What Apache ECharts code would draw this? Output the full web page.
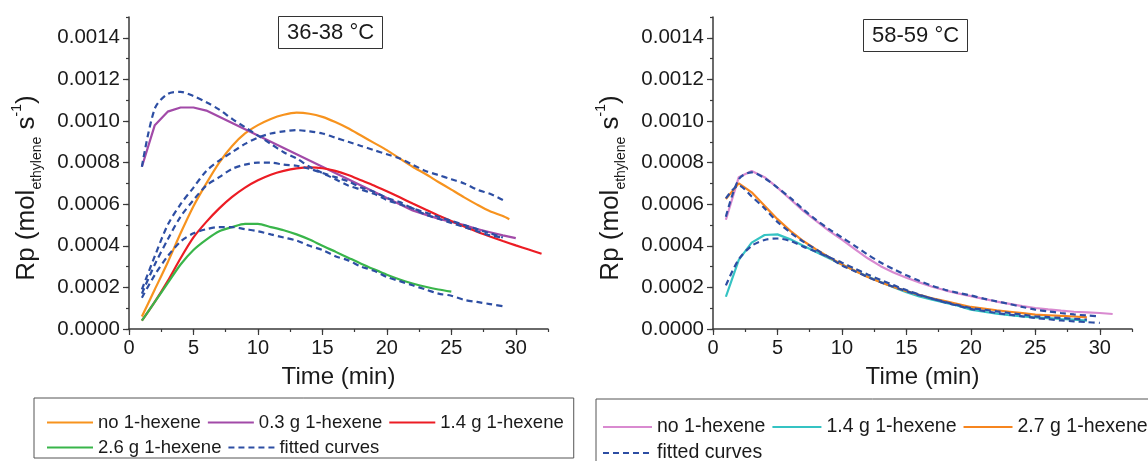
<!DOCTYPE html>
<html>
<head>
<meta charset="utf-8">
<script src="https://cdn.jsdelivr.net/npm/echarts@6/dist/echarts.min.js"></script>
<style>
html,body{margin:0;padding:0;background:#fff;}
#chart{width:1148px;height:461px;}
</style>
</head>
<body>
<div id="chart"></div>
<script>
// ---------- DATA ----------
const leftTitle = '36-38 °C';
const rightTitle = '58-59 °C';
const xTickValues = [0, 5, 10, 15, 20, 25, 30];
const xMinorValues = [0, 2.5, 5, 7.5, 10, 12.5, 15, 17.5, 20, 22.5, 25, 27.5, 30, 32.5];
const yTickValues = [0, 0.0002, 0.0004, 0.0006, 0.0008, 0.0010, 0.0012, 0.0014];
const yMinorValues = [0, 0.0001, 0.0002, 0.0003, 0.0004, 0.0005, 0.0006, 0.0007, 0.0008, 0.0009, 0.0010, 0.0011, 0.0012, 0.0013, 0.0014, 0.0015];

const namesLeft = ['no 1-hexene', '0.3 g 1-hexene', '1.4 g 1-hexene', '2.6 g 1-hexene', 'fitted curves'];
const namesRight = ['no 1-hexene', '1.4 g 1-hexene', '2.7 g 1-hexene', 'fitted curves'];

// Left panel (36-38 °C), time in min
const tOrangeL = [1,2,3,4,5,6,7,8,9,10,11,12,13,14,15,16,17,18,19,20,21,22,23,24,25,26,27,28,29,29.5];
const noHexL = [0.00006,0.00019,0.00032,0.00046,0.00059,0.00070,0.00080,0.00088,0.00094,0.00098,0.00101,0.00103,0.00104,0.001035,0.00102,0.000995,0.000965,0.00093,0.000895,0.00086,0.00082,0.00078,0.000745,0.000707,0.00067,0.000633,0.000598,0.000566,0.000543,0.000528];
const tPurpleL = [1,2,3,4,5,6,7,8,9,10,11,12,13,14,15,16,17,18,19,20,21,22,23,24,25,26,27,28,29,30];
const hex03L = [0.00078,0.00098,0.001045,0.001065,0.001065,0.00105,0.00102,0.00099,0.00096,0.00093,0.00090,0.00087,0.00084,0.00081,0.00078,0.00075,0.00072,0.00069,0.00066,0.00063,0.00060,0.00057,0.00055,0.00053,0.000515,0.00050,0.00048,0.000465,0.00045,0.000437];
const tRedL = [1,2,3,4,5,6,7,8,9,10,11,12,13,14,15,16,17,18,19,20,21,22,23,24,25,26,27,28,29,30,31,32];
const hex14L = [0.00004,0.00013,0.00023,0.00034,0.00044,0.000515,0.00058,0.000635,0.00068,0.000715,0.000742,0.00076,0.000772,0.000777,0.000773,0.00076,0.00074,0.000715,0.00069,0.000662,0.000633,0.000603,0.000574,0.000546,0.000519,0.000493,0.000468,0.000445,0.000423,0.000402,0.000382,0.000362];
const tGreenL = [1,2,3,4,5,6,7,8,9,10,11,12,13,14,15,16,17,18,19,20,21,22,23,24,25];
const hex26L = [0.00004,0.00013,0.00022,0.00031,0.00038,0.00043,0.00047,0.00049,0.000505,0.000505,0.00049,0.000475,0.000455,0.00043,0.00040,0.000372,0.000343,0.000314,0.000287,0.000261,0.000238,0.000219,0.000203,0.00019,0.00018];
const tFitL = [1,2,3,4,5,6,7,8,9,10,11,12,13,14,15,16,17,18,19,20,21,22,23,24,25,26,27,28,29];
const fitNoHexL = [0.00019,0.00035,0.00050,0.00060,0.00068,0.00076,0.00081,0.00085,0.00089,0.00092,0.00094,0.00095,0.000956,0.00095,0.00094,0.00092,0.00090,0.00088,0.00086,0.00084,0.00082,0.00079,0.00076,0.00074,0.00072,0.00070,0.00067,0.00065,0.00062];
const fitHex03L = [0.00078,0.00106,0.00113,0.00114,0.00112,0.00109,0.001055,0.00101,0.00097,0.00093,0.00089,0.00085,0.00082,0.00078,0.00075,0.00072,0.00069,0.00067,0.00065,0.00062,0.00060,0.00058,0.00055,0.00053,0.00051,0.00049,0.00047,0.00045,0.00044];
const fitHex14L = [0.00017,0.00031,0.00043,0.00054,0.00062,0.00069,0.00073,0.00077,0.00079,0.00080,0.00080,0.00079,0.000785,0.00077,0.00075,0.00073,0.00071,0.00068,0.00066,0.00063,0.00061,0.00058,0.00056,0.00054,0.00052,0.00050,0.00048,0.00046,0.00044];
const fitHex26L = [0.00015,0.00026,0.00035,0.00042,0.00046,0.00048,0.00049,0.00049,0.00048,0.00047,0.000455,0.00044,0.000425,0.00040,0.00038,0.00035,0.00033,0.00030,0.00028,0.00025,0.00023,0.00021,0.00019,0.00017,0.00016,0.00014,0.00013,0.00012,0.00011];

// Right panel (58-59 °C)
const tPinkR = [1,2,3,4,5,6,7,8,9,10,11,12,13,14,15,16,17,18,19,20,21,22,23,24,25,26,27,28,29,30,31];
const noHexR = [0.000525,0.00073,0.00076,0.00073,0.00068,0.000624,0.000568,0.00052,0.000472,0.00043,0.000384,0.00034,0.000302,0.000272,0.000246,0.000224,0.000203,0.000186,0.000171,0.000158,0.000145,0.000132,0.000121,0.00011,0.000101,0.000094,0.000088,0.000083,0.00008,0.000077,0.000072];
const tShortR = [1,2,3,4,5,6,7,8,9,10,11,12,13,14,15,16,17,18,19,20,21,22,23,24,25,26,27,28,29];
const hex14R = [0.000155,0.000332,0.000415,0.000452,0.000455,0.000431,0.0004,0.00037,0.00034,0.00031,0.00028,0.000252,0.000226,0.000201,0.000177,0.000157,0.000141,0.000127,0.000112,0.000093,0.000083,0.000074,0.000066,0.00006,0.000056,0.000052,0.000048,0.000045,0.00004];
const hex27R = [0.000625,0.0007,0.000657,0.000592,0.000528,0.000472,0.000423,0.000383,0.000345,0.00031,0.00028,0.00025,0.000225,0.000202,0.000182,0.000164,0.000148,0.000134,0.00012,0.000106,0.000098,0.00009,0.000083,0.000076,0.000069,0.000066,0.000063,0.00006,0.000056];
const tFitR = [1,2,3,4,5,6,7,8,9,10,11,12,13,14,15,16,17,18,19,20,21,22,23,24,25,26,27,28,29,30];
const fitNoHexR = [0.00054,0.00072,0.000753,0.000725,0.00068,0.00063,0.000575,0.000525,0.00048,0.00044,0.0004,0.000358,0.00032,0.000288,0.000258,0.000232,0.000208,0.000189,0.000174,0.000161,0.000146,0.000133,0.00012,0.000106,0.000093,0.000085,0.000077,0.00007,0.000065,0.000061];
const fitHex14R = [0.00021,0.000335,0.0004,0.000428,0.000435,0.000423,0.000396,0.000372,0.000345,0.000319,0.00029,0.000262,0.000236,0.000211,0.000187,0.000165,0.000146,0.000128,0.000112,0.000097,0.000087,0.000077,0.000069,0.000061,0.000053,0.000047,0.000041,0.000037,0.000033,0.000029];
const fitHex27R = [0.000628,0.00069,0.000637,0.00058,0.000515,0.000464,0.00042,0.000382,0.000345,0.000306,0.000278,0.00025,0.000225,0.000203,0.000182,0.000163,0.000146,0.00013,0.000115,0.000101,0.000093,0.000085,0.000077,0.000069,0.000061,0.000057,0.000053,0.000049,0.000045];

// ---------- STYLE ----------
const FONT = '"Liberation Sans", Arial, Helvetica, sans-serif';
const TXT = '#1a1a1a';
const AX = '#3a3a3a';
const FITC = '#2d4ea3';
const C = {
  orangeL: '#f7931e', purple: '#a24aa8', red: '#ec1c24', green: '#39b54a',
  pink: '#d98ad0', teal: '#35c3c3', orangeR: '#f6851f'
};
const RSUF = '\u0000R'; // suffix to make right-panel series names unique
const pairs = (t, v) => v.map((y, i) => [t[i], y]);

function xAxes(g) {
  return [{
    type: 'value', gridIndex: g, position: 'bottom', min: 0, max: 32.5,
    axisLine: { show: true, onZero: false, lineStyle: { color: AX, width: 1.5 } },
    axisTick: { show: true, length: 3, customValues: xMinorValues, lineStyle: { color: AX, width: 1.2 } },
    axisLabel: { show: true, customValues: xTickValues, margin: 9, fontSize: 20, color: TXT, fontFamily: FONT,
      formatter: v => String(v) },
    splitLine: { show: false },
    name: 'Time (min)', nameLocation: 'middle', nameGap: 36,
    nameTextStyle: { fontSize: 24, color: TXT, fontFamily: FONT }
  }, {
    type: 'value', gridIndex: g, position: 'bottom', min: 0, max: 32.5,
    axisLine: { show: false },
    axisTick: { show: true, length: 6, customValues: xTickValues, lineStyle: { color: AX, width: 1.2 } },
    axisLabel: { show: false }, splitLine: { show: false }
  }];
}
function yAxes(g) {
  return [{
    type: 'value', gridIndex: g, position: 'left', min: 0, max: 0.0015,
    axisLine: { show: true, onZero: false, lineStyle: { color: AX, width: 1.5 } },
    axisTick: { show: true, length: 3, customValues: yMinorValues, lineStyle: { color: AX, width: 1.2 } },
    axisLabel: { show: true, customValues: yTickValues, margin: 9, fontSize: 20.5, color: TXT, fontFamily: FONT,
      formatter: v => v.toFixed(4) },
    splitLine: { show: false }
  }, {
    type: 'value', gridIndex: g, position: 'left', min: 0, max: 0.0015,
    axisLine: { show: false },
    axisTick: { show: true, length: 6, customValues: yTickValues, lineStyle: { color: AX, width: 1.2 } },
    axisLabel: { show: false }, splitLine: { show: false }
  }];
}
function solid(name, data, color, xi, yi, smooth) {
  return { type: 'line', name, data, xAxisIndex: xi, yAxisIndex: yi, symbol: 'none', smooth: smooth || false,
    lineStyle: { color, width: 2.2 }, itemStyle: { color }, z: 2, animation: false };
}
function fit(name, data, xi, yi) {
  return { type: 'line', name, data, xAxisIndex: xi, yAxisIndex: yi, symbol: 'none', smooth: 0.3,
    lineStyle: { color: FITC, width: 2.2, type: [6, 4] }, itemStyle: { color: FITC }, z: 3, animation: false };
}

const yNameRich = {
  m: { fontSize: 26, lineHeight: 34, fontFamily: FONT, fill: TXT, color: TXT },
  sub: { fontSize: 14, lineHeight: 14, fontFamily: FONT, fill: TXT, color: TXT, verticalAlign: 'bottom' },
  sup: { fontSize: 14, lineHeight: 14, fontFamily: FONT, fill: TXT, color: TXT, verticalAlign: 'top' }
};
const yNameText = '{m|Rp (mol}{sub|ethylene}{m| s}{sup|-1}{m|)}';

const legendCommon = {
  orient: 'horizontal', borderColor: '#555', borderWidth: 1, borderRadius: 0,
  itemGap: 6, selectedMode: false,
  itemStyle: { opacity: 0, borderWidth: 0 },
  formatter: n => n.replace(RSUF, '')
};

const option = {
  backgroundColor: '#ffffff',
  animation: false,
  title: [
    { text: leftTitle, left: 278, top: 16, padding: [5, 9, 5, 9], borderColor: '#333', borderWidth: 1,
      textStyle: { fontSize: 22, fontWeight: 'normal', color: TXT, fontFamily: FONT, lineHeight: 23 } },
    { text: rightTitle, left: 863, top: 19, padding: [5, 9, 5, 9], borderColor: '#333', borderWidth: 1,
      textStyle: { fontSize: 22, fontWeight: 'normal', color: TXT, fontFamily: FONT, lineHeight: 23 } }
  ],
  grid: [
    { left: 129, top: 17, width: 419, height: 312, containLabel: false },
    { left: 713, top: 17, width: 419, height: 312, containLabel: false }
  ],
  xAxis: [...xAxes(0), ...xAxes(1)],
  yAxis: [...yAxes(0), ...yAxes(1)],
  legend: [
    Object.assign({}, legendCommon, {
      left: 34, top: 398, width: 528, padding: [15, 10, 1, 12],
      itemWidth: 46, itemHeight: 14,
      textStyle: { color: TXT, fontFamily: FONT, fontSize: 18.5, lineHeight: 19 },
      data: namesLeft
    }),
    Object.assign({}, legendCommon, {
      left: 596, top: 399, width: 548, padding: [18, 40, 40, 6],
      itemWidth: 49, itemHeight: 14,
      textStyle: { color: TXT, fontFamily: FONT, fontSize: 19.5, lineHeight: 20 },
      data: namesRight.map(n => n + RSUF)
    })
  ],
  graphic: [
    { type: 'text', x: 27, y: 188, rotation: Math.PI / 2,
      style: { text: yNameText, rich: yNameRich, align: 'center', verticalAlign: 'middle', fill: TXT } },
    { type: 'text', x: 611, y: 188, rotation: Math.PI / 2,
      style: { text: yNameText, rich: yNameRich, align: 'center', verticalAlign: 'middle', fill: TXT } }
  ],
  series: [
    solid(namesLeft[0], pairs(tOrangeL, noHexL), C.orangeL, 0, 0, 0.25),
    solid(namesLeft[1], pairs(tPurpleL, hex03L), C.purple, 0, 0, false),
    solid(namesLeft[2], pairs(tRedL, hex14L), C.red, 0, 0, 0.25),
    solid(namesLeft[3], pairs(tGreenL, hex26L), C.green, 0, 0, 0.25),
    fit(namesLeft[4], pairs(tFitL, fitNoHexL), 0, 0),
    fit(namesLeft[4], pairs(tFitL, fitHex03L), 0, 0),
    fit(namesLeft[4], pairs(tFitL, fitHex14L), 0, 0),
    fit(namesLeft[4], pairs(tFitL, fitHex26L), 0, 0),
    solid(namesRight[0] + RSUF, pairs(tPinkR, noHexR), C.pink, 2, 2, false),
    solid(namesRight[1] + RSUF, pairs(tShortR, hex14R), C.teal, 2, 2, false),
    solid(namesRight[2] + RSUF, pairs(tShortR, hex27R), C.orangeR, 2, 2, false),
    fit(namesRight[3] + RSUF, pairs(tFitR, fitNoHexR), 2, 2),
    fit(namesRight[3] + RSUF, pairs(tFitR, fitHex14R), 2, 2),
    fit(namesRight[3] + RSUF, pairs(tShortR, fitHex27R), 2, 2)
  ]
};

const chart = echarts.init(document.getElementById('chart'), null, { renderer: 'canvas' });
chart.setOption(option);
</script>
</body>
</html>
